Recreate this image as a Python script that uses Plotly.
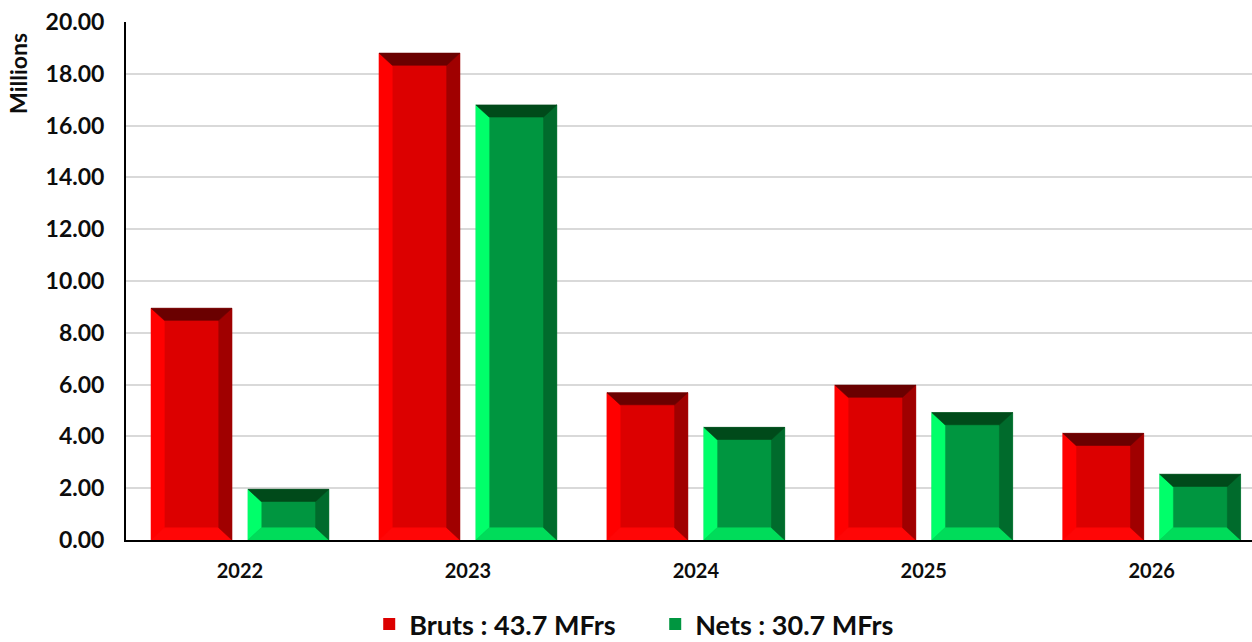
import plotly.graph_objects as go

# ---------------- data ----------------
years = ["2022", "2023", "2024", "2025", "2026"]
bruts = [8.95, 18.80, 5.69, 5.98, 4.12]
nets = [1.96, 16.80, 4.35, 4.92, 2.54]
series_labels = ["Bruts : 43.7 MFrs", "Nets : 30.7 MFrs"]
y_ticks = [0, 2, 4, 6, 8, 10, 12, 14, 16, 18, 20]
y_title = "Millions"

# ---------------- style ----------------
FONT = "Lato"
BAR_W = 0.355
OFFSETS = [-0.39, 0.035]
BEVEL_X = 0.058   # horizontal bevel (category units)
BEVEL_Y = 0.47    # vertical bevel (value units)

RED = dict(center="#DC0000", left="#FF0000", bottom="#FF0606", top="#6A0000", right="#A00000")
GREEN = dict(center="#009640", left="#00FF6A", bottom="#00DC5A", top="#004A1A", right="#006B2C")
palettes = [RED, GREEN]
series_vals = [bruts, nets]

idx = list(range(len(years)))

fig = go.Figure()

# main bars
for vals, lab, off, pal in zip(series_vals, series_labels, OFFSETS, palettes):
    fig.add_trace(go.Bar(
        x=idx, y=vals, offset=off, width=BAR_W, name=lab,
        marker=dict(color=pal["center"], line=dict(width=0)),
        hoverinfo="skip",
    ))

# bevel facets (computed from the data values)
def bevel_polys(vals, off):
    sides = {"top": ([], []), "right": ([], []), "bottom": ([], []), "left": ([], [])}
    for i, v in zip(idx, vals):
        x0 = i + off
        x1 = x0 + BAR_W
        y0, y1 = 0.0, v
        ix0, ix1 = x0 + BEVEL_X, x1 - BEVEL_X
        iy0, iy1 = y0 + BEVEL_Y, y1 - BEVEL_Y
        polys = {
            "top": [(x0, y1), (x1, y1), (ix1, iy1), (ix0, iy1), (x0, y1)],
            "right": [(x1, y1), (x1, y0), (ix1, iy0), (ix1, iy1), (x1, y1)],
            "bottom": [(x0, y0), (x1, y0), (ix1, iy0), (ix0, iy0), (x0, y0)],
            "left": [(x0, y0), (x0, y1), (ix0, iy1), (ix0, iy0), (x0, y0)],
        }
        for k, pts in polys.items():
            xs, ys = sides[k]
            xs.extend([p[0] for p in pts] + [None])
            ys.extend([p[1] for p in pts] + [None])
    return sides

for vals, off, pal in zip(series_vals, OFFSETS, palettes):
    sides = bevel_polys(vals, off)
    for k in ["left", "bottom", "right", "top"]:
        xs, ys = sides[k]
        fig.add_trace(go.Scatter(
            x=xs, y=ys, mode="lines", fill="toself",
            fillcolor=pal[k], line=dict(color=pal[k], width=0.6),
            showlegend=False, hoverinfo="skip",
        ))

fig.update_layout(
    width=1252, height=642,
    margin=dict(l=126, r=0, t=22, b=102, autoexpand=False),
    paper_bgcolor="white", plot_bgcolor="white",
    barmode="overlay",
    font=dict(family=FONT, color="#0D0D0D", weight="bold"),
    showlegend=True,
    legend=dict(
        orientation="h", x=0.216, xanchor="left", y=-0.163, yanchor="middle",
        font=dict(size=27, family=FONT, color="#0D0D0D", weight="bold"),
        entrywidth=241, entrywidthmode="pixels",
        bgcolor="rgba(0,0,0,0)",
    ),
    annotations=[dict(
        text=y_title, xref="paper", yref="paper", x=-0.096, y=0.9015,
        xanchor="center", yanchor="middle", textangle=-90, showarrow=False,
        font=dict(size=23, family=FONT, color="#0D0D0D", weight="bold"),
    )],
)

fig.update_xaxes(
    range=[-0.5, 4.44], tickvals=idx, ticktext=years,
    showgrid=False, zeroline=False, automargin=False,
    showline=True, linecolor="#000000", linewidth=2,
    ticks="", ticklabelstandoff=12,
    tickfont=dict(size=20, family=FONT, color="#0D0D0D", weight="bold"),
)
fig.update_yaxes(
    range=[0, 20], tickvals=y_ticks, tickformat=".2f",
    showgrid=True, gridcolor="#D9D9D9", gridwidth=1.5,
    zeroline=False, automargin=False,
    showline=True, linecolor="#000000", linewidth=2,
    ticks="", ticklabelstandoff=15,
    tickfont=dict(size=23, family=FONT, color="#0D0D0D", weight="bold"),
)

fig.write_html(
    "out.html",
    config={"displayModeBar": False},
    post_script="document.body.style.margin='0';document.body.style.overflow='hidden';",
)
